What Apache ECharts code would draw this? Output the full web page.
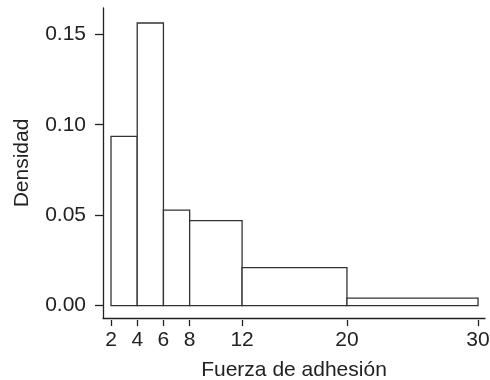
<!DOCTYPE html>
<html lang="es">
<head>
  <meta charset="UTF-8">
  <title>Histograma</title>
  <style>
    html, body { margin: 0; padding: 0; background: #fff; }
    #chart { width: 490px; height: 380px; }
  </style>
</head>
<body>
<div id="chart"></div>
<script src="https://cdn.jsdelivr.net/npm/echarts@6/dist/echarts.min.js"></script>
<script>
  // limites de clase y densidades
  const binStart = [2, 4, 6, 8, 12, 20];
  const binEnd = [4, 6, 8, 12, 20, 30];
  const density = [0.0936, 0.1562, 0.0528, 0.047, 0.021, 0.0042];
  const xTicks = [2, 4, 6, 8, 12, 20, 30];
  const yTicks = [0, 0.05, 0.10, 0.15];

  const ink = '#222';
  const font = 'Liberation Sans';

  const data = binStart.map((s, i) => [s, binEnd[i], density[i]]);

  const chart = echarts.init(document.getElementById('chart'));

  chart.setOption({
    animation: false,
    backgroundColor: '#fff',
    grid: { left: 103, right: 5, top: 8, bottom: 62, outerBoundsMode: 'none' },
    xAxis: [{
      type: 'value',
      min: 1.39,
      max: 30.53,
      name: 'Fuerza de adhesión',
      nameLocation: 'middle',
      nameGap: 42,
      nameTextStyle: { color: ink, fontFamily: font, fontSize: 21 },
      axisLine: { show: true, onZero: false, lineStyle: { color: ink, width: 1.3 } },
      axisTick: { show: false },
      axisLabel: { show: false },
      splitLine: { show: false }
    }, {
      type: 'value',
      position: 'bottom',
      offset: 2,
      min: 1.39,
      max: 30.53,
      axisLine: { show: false, onZero: false },
      axisTick: { show: true, length: 6, customValues: xTicks, lineStyle: { color: ink, width: 1.3 } },
      axisLabel: { customValues: xTicks, color: ink, fontFamily: font, fontSize: 21, margin: 10 },
      splitLine: { show: false }
    }],
    yAxis: {
      type: 'value',
      min: -0.0068,
      max: 0.1645,
      name: 'Densidad',
      nameLocation: 'middle',
      nameGap: 70,
      nameTextStyle: { color: ink, fontFamily: font, fontSize: 21 },
      axisLine: { show: true, onZero: false, lineStyle: { color: ink, width: 1.3 } },
      axisTick: { show: true, length: 8, customValues: yTicks, lineStyle: { color: ink, width: 1.3 } },
      axisLabel: {
        customValues: yTicks,
        color: ink, fontFamily: font, fontSize: 21, margin: 17,
        formatter: v => v.toFixed(2)
      },
      splitLine: { show: false }
    },
    series: [{
      type: 'custom',
      data: data,
      encode: { x: [0, 1], y: 2 },
      renderItem: (params, api) => {
        const p0 = api.coord([api.value(0), 0]);
        const p1 = api.coord([api.value(1), api.value(2)]);
        return {
          type: 'rect',
          shape: { x: p0[0], y: p1[1], width: p1[0] - p0[0], height: p0[1] - p1[1] },
          style: { fill: '#fff', stroke: '#333', lineWidth: 1.3 }
        };
      }
    }]
  });
</script>
</body>
</html>
